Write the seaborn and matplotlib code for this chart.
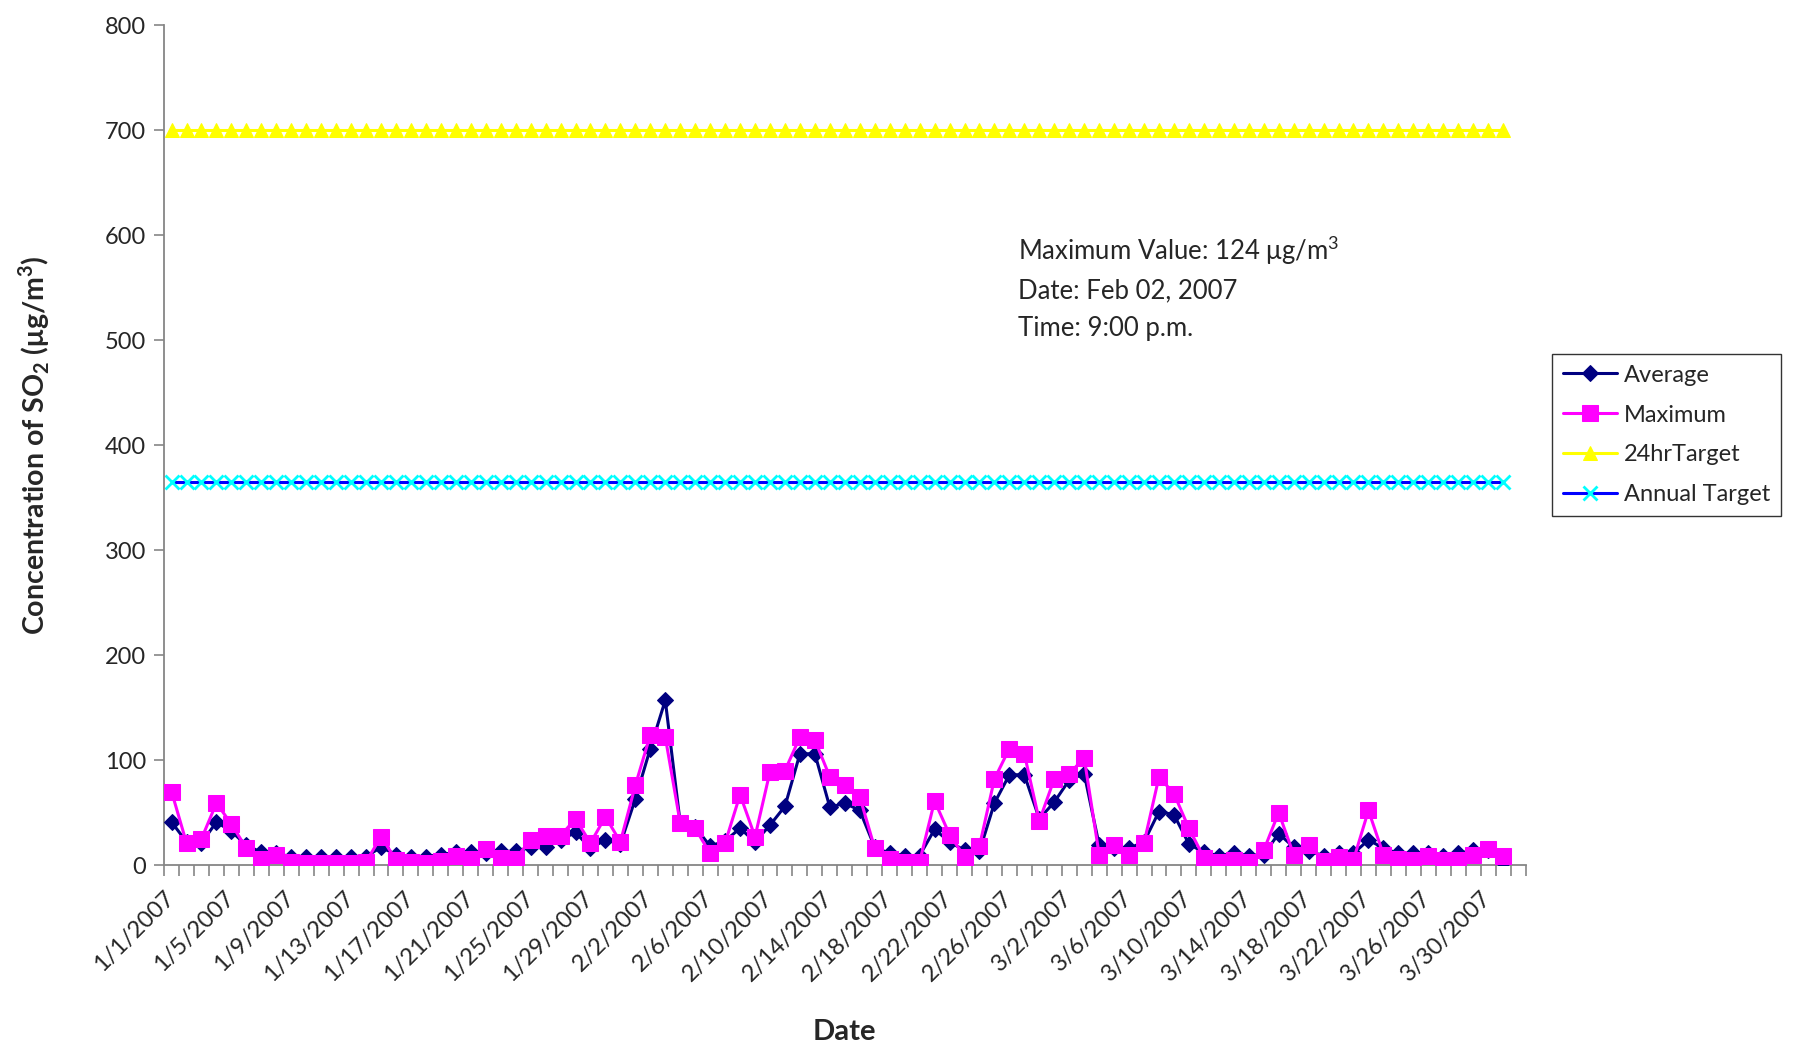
import pandas as pd
import matplotlib.pyplot as plt
import matplotlib.transforms as mtransforms
import seaborn as sns
import numpy as np

# Daily SO2 values (ug/m3), 1 Jan - 31 Mar 2007
average = [41, 22, 21, 41, 32, 19, 12, 11, 8, 8, 8, 8, 8, 8, 17, 10, 8, 8, 10, 12,
           12, 11, 13, 13, 17, 17, 24, 31, 16, 24, 20, 63, 111, 157, 40, 36, 18, 23, 35, 22,
           38, 56, 106, 106, 55, 59, 52, 17, 11, 9, 9, 34, 22, 14, 13, 59, 86, 86, 44, 60,
           81, 87, 19, 16, 16, 22, 51, 48, 20, 12, 9, 11, 9, 10, 30, 17, 13, 9, 11, 11,
           24, 16, 11, 11, 11, 9, 11, 14, 14, 3]
maximum = [70, 21, 25, 59, 39, 16, 6, 10, 3, 2, 2, 2, 2, 3, 27, 5, 3, 2, 4, 9,
           6, 15, 7, 6, 24, 28, 28, 44, 21, 46, 22, 76, 124, 122, 40, 35, 11, 21, 67, 27,
           89, 90, 122, 119, 84, 76, 65, 16, 6, 3, 3, 61, 29, 8, 18, 82, 111, 106, 42, 82,
           87, 102, 10, 19, 10, 21, 84, 68, 35, 7, 3, 5, 3, 14, 50, 10, 19, 4, 8, 5,
           52, 10, 6, 5, 9, 5, 5, 10, 15, 9]
target_24hr = 700
target_annual = 365

dates = pd.date_range('2007-01-01', periods=len(average))
date_labels = [f'{d.month}/{d.day}/{d.year}' for d in dates]

df = pd.DataFrame({'idx': np.arange(len(dates)), 'Average': average, 'Maximum': maximum,
                   '24hrTarget': target_24hr, 'Annual Target': target_annual})

sns.set_theme(style='white')
plt.rcParams['font.family'] = ['Lato', 'DejaVu Sans']
plt.rcParams['mathtext.fontset'] = 'custom'
plt.rcParams['mathtext.rm'] = 'Lato'
plt.rcParams['mathtext.bf'] = 'Lato:bold'

fig = plt.figure(figsize=(17.99, 10.53), dpi=100)
ax = fig.add_axes([0.0912, 0.1785, 0.848 - 0.0912, 0.976 - 0.1785])

sns.lineplot(data=df, x='idx', y='Average', ax=ax, color='#000080', lw=2.2,
             marker='D', markersize=8, markeredgecolor='#000080', label='Average', zorder=3)
sns.lineplot(data=df, x='idx', y='Maximum', ax=ax, color='#FF00FF', lw=2.2,
             marker='s', markersize=12, markeredgecolor='#FF00FF', label='Maximum', zorder=4)
sns.lineplot(data=df, x='idx', y='24hrTarget', ax=ax, color='#FFFF00', lw=2.2,
             marker='^', markersize=10, markeredgecolor='#FFFF00', label='24hrTarget', zorder=2)
sns.lineplot(data=df, x='idx', y='Annual Target', ax=ax, color='#0000FF', lw=2.2,
             marker='x', markersize=10.5, markeredgecolor='#00FFFF', markeredgewidth=2,
             label='Annual Target', zorder=2)

ax.set_xlim(-0.5, len(dates) + 0.5)
ax.set_ylim(0, 800)
ax.set_yticks(np.arange(0, 801, 100))
ax.tick_params(axis='y', labelsize=17, length=7, width=1.2, color='#868686',
               direction='out', left=True, pad=6)

tick_pos = np.arange(0, len(dates), 4)
ax.set_xticks(tick_pos)
ax.set_xticklabels([date_labels[i] for i in tick_pos], rotation=45, ha='right',
                   rotation_mode='anchor', fontsize=17)
ax.set_xticks(np.arange(-0.5, len(dates) + 1), minor=True)
ax.tick_params(axis='x', which='major', length=0, pad=16)
ax.tick_params(axis='x', which='minor', length=8, width=1.2, color='#868686',
               direction='out', bottom=True)
# shift the rotated labels slightly left, like the original
offset = mtransforms.ScaledTranslation(-8 / 100, 0, fig.dpi_scale_trans)
for lab in ax.get_xticklabels():
    lab.set_transform(lab.get_transform() + offset)

for side in ['top', 'right']:
    ax.spines[side].set_visible(False)
for side in ['left', 'bottom']:
    ax.spines[side].set_color('#868686')
    ax.spines[side].set_linewidth(1.3)

ax.set_xlabel('Date', fontsize=21, fontweight='bold')
ax.xaxis.set_label_coords(0.5, -0.183)
ax.set_ylabel(r'Concentration of SO$_\mathbf{2}$ (μg/m$^\mathbf{3}$)', fontsize=20.5,
              fontweight='bold')
ax.yaxis.set_label_coords(-0.082, 0.5)

ax.text(56.6, 602, 'Maximum Value: 124 μg/m$^3$\nDate: Feb 02, 2007\nTime: 9:00 p.m.',
        fontsize=18.5, va='top', ha='left', linespacing=1.6)

ax.get_legend().remove()
handles, labels = ax.get_legend_handles_labels()
leg = fig.legend(handles, labels, loc='upper left', bbox_to_anchor=(0.8627, 0.6638),
                 fontsize=17, frameon=True, fancybox=False, edgecolor='black',
                 handlelength=2.3, handletextpad=0.3, labelspacing=0.8,
                 borderpad=0.45, borderaxespad=0)
leg.get_frame().set_linewidth(1.0)

plt.savefig('out.png', dpi=100)
